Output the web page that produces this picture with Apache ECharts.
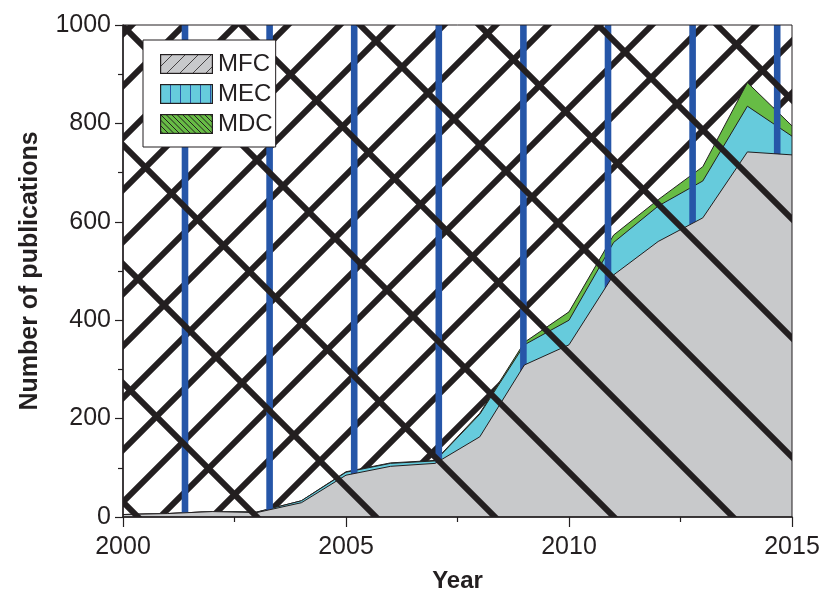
<!DOCTYPE html>
<html>
<head>
<meta charset="utf-8">
<script src="https://cdn.jsdelivr.net/npm/echarts@6/dist/echarts.min.js"></script>
<style>
html, body { margin: 0; background: #fff; }
#chart { width: 823px; height: 591px; }
</style>
</head>
<body>
<div id="chart"></div>
<script>
// data (stacked: MFC at bottom, then MEC, then MDC)
const years = [2000, 2001, 2002, 2003, 2004, 2005, 2006, 2007, 2008, 2009, 2010, 2011, 2012, 2013, 2014, 2015];
const mfc = [5, 7, 11, 9, 29, 85, 103, 109, 163, 309, 350, 492, 560, 608, 742, 736];
const mec = [0, 0, 0, 1, 4, 6, 6, 5, 46, 41, 50, 66, 72, 75, 93, 38];
const mdc = [0, 0, 0, 0, 0, 1, 1, 1, 2, 5, 17, 15, 13, 29, 48, 21];
const seriesNames = ['MFC', 'MEC', 'MDC'];
const xTicks = { min: 2000, max: 2015, interval: 5 };
const yTicks = { min: 0, max: 1000, interval: 200 };

const ink = '#231f20';
const font = '"Liberation Sans", Arial, Helvetica, sans-serif';

// running totals, so each layer can be filled down to zero and overlapped
const topMEC = mfc.map((v, i) => v + mec[i]);
const topMDC = topMEC.map((v, i) => v + mdc[i]);

// small hatched swatches for the legend
function swatch(bg, draw) {
  const c = document.createElement('canvas');
  c.width = 53; c.height = 20;
  const g = c.getContext('2d');
  g.fillStyle = bg;
  g.fillRect(0, 0, 53, 20);
  g.save();
  g.beginPath(); g.rect(0, 0, 53, 20); g.clip();
  draw(g);
  g.restore();
  g.strokeStyle = ink; g.lineWidth = 1.2;
  g.strokeRect(0.6, 0.6, 51.8, 18.8);
  return 'image://' + c.toDataURL();
}
const iconMFC = swatch('#c8c9cb', g => {
  g.strokeStyle = ink; g.lineWidth = 0.8;
  for (let x = -20; x < 75; x += 13) { g.beginPath(); g.moveTo(x, 20); g.lineTo(x + 20, 0); g.stroke(); }
});
const iconMEC = swatch('#66cbdc', g => {
  g.strokeStyle = '#2656a8'; g.lineWidth = 1;
  for (let x = 10; x < 53; x += 10) { g.beginPath(); g.moveTo(x + 0.5, 0); g.lineTo(x + 0.5, 20); g.stroke(); }
});
const iconMDC = swatch('#67bc45', g => {
  g.strokeStyle = ink; g.lineWidth = 1;
  for (let x = -22; x < 60; x += 5.5) { g.beginPath(); g.moveTo(x, 0); g.lineTo(x + 20, 20); g.stroke(); }
});

function pairs(vals) { return years.map((y, i) => [y, vals[i]]); }

let myChart = echarts.init(document.getElementById('chart'));
myChart.setOption({
  animation: false,
  grid: {
    left: 123, top: 25, right: 31, bottom: 74, outerBoundsMode: 'none', containLabel: false,
    show: true, borderColor: ink, borderWidth: 1, backgroundColor: 'transparent', z: 7
  },
  legend: {
    orient: 'vertical',
    left: 143, top: 40,
    itemWidth: 53, itemHeight: 20, itemGap: 6,
    padding: [12, 3, 11, 17],
    backgroundColor: '#fff',
    borderColor: ink, borderWidth: 1,
    textStyle: { fontSize: 24, color: ink, fontFamily: font },
    data: [
      { name: 'MFC', icon: iconMFC },
      { name: 'MEC', icon: iconMEC },
      { name: 'MDC', icon: iconMDC }
    ],
    z: 10
  },
  xAxis: {
    type: 'value',
    min: xTicks.min, max: xTicks.max, interval: xTicks.interval,
    name: 'Year', nameLocation: 'middle', nameGap: 52,
    nameTextStyle: { fontSize: 24, fontWeight: 'bold', color: ink, fontFamily: font },
    axisLine: { lineStyle: { color: ink, width: 1.5 } },
    axisTick: { length: 10, lineStyle: { color: ink, width: 1.2 } },
    minorTick: { show: true, splitNumber: 2, length: 5, lineStyle: { color: ink, width: 1.2 } },
    axisLabel: { fontSize: 25, color: ink, fontFamily: font, margin: 18, formatter: v => String(v) },
    splitLine: { show: false },
    z: 8
  },
  yAxis: {
    type: 'value',
    min: yTicks.min, max: yTicks.max, interval: yTicks.interval,
    name: 'Number of publications', nameLocation: 'middle', nameGap: 80, nameRotate: 90,
    nameTextStyle: { fontSize: 25, fontWeight: 'bold', color: ink, fontFamily: font },
    axisLine: { show: true, lineStyle: { color: ink, width: 1.5 } },
    axisTick: { show: true, length: 8, lineStyle: { color: ink, width: 1.2 } },
    minorTick: { show: true, splitNumber: 2, length: 5, lineStyle: { color: ink, width: 1.2 } },
    axisLabel: { fontSize: 25, color: ink, fontFamily: font, margin: 12, formatter: v => String(v) },
    splitLine: { show: false },
    z: 8
  },
  series: [
    {
      name: seriesNames[0], type: 'line', data: pairs(mfc),
      symbol: 'none', lineStyle: { color: ink, width: 1 },
      areaStyle: { color: '#c8c9cb', opacity: 1 }, itemStyle: { color: '#c8c9cb' }, z: 5
    },
    {
      name: seriesNames[1], type: 'line', data: pairs(topMEC),
      symbol: 'none', lineStyle: { color: ink, width: 1 },
      areaStyle: { color: '#66cbdc', opacity: 1 }, itemStyle: { color: '#66cbdc' }, z: 3
    },
    {
      name: seriesNames[2], type: 'line', data: pairs(topMDC),
      symbol: 'none', lineStyle: { color: ink, width: 1 },
      areaStyle: { color: '#67bc45', opacity: 1 }, itemStyle: { color: '#67bc45' }, z: 2
    }
  ]
});

// the oversized hatch strokes that cross the plot area
function clipHalf(pts, a, b, c) {
  const out = [];
  for (let i = 0; i < pts.length; i++) {
    const cur = pts[i], prev = pts[(i + pts.length - 1) % pts.length];
    const dc = a * cur[0] + b * cur[1] - c, dp = a * prev[0] + b * prev[1] - c;
    const cross = () => { const t = dp / (dp - dc); return [prev[0] + t * (cur[0] - prev[0]), prev[1] + t * (cur[1] - prev[1])]; };
    if (dc <= 0) { if (dp > 0) out.push(cross()); out.push(cur); }
    else if (dp <= 0) out.push(cross());
  }
  return out;
}
function band(px, py, dx, dy, hw, W, H) {
  const T = 3000, nx = -dy * hw, ny = dx * hw;
  let pts = [
    [px - dx * T + nx, py - dy * T + ny], [px + dx * T + nx, py + dy * T + ny],
    [px + dx * T - nx, py + dy * T - ny], [px - dx * T - nx, py - dy * T - ny]
  ];
  pts = clipHalf(pts, 1, 0, W); pts = clipHalf(pts, -1, 0, 0);
  pts = clipHalf(pts, 0, 1, H); pts = clipHalf(pts, 0, -1, 0);
  return pts;
}

const p0 = myChart.convertToPixel({ gridIndex: 0 }, [xTicks.min, yTicks.max]);
const p1 = myChart.convertToPixel({ gridIndex: 0 }, [xTicks.max, yTicks.min]);
const L = p0[0], T0 = p0[1], W = p1[0] - p0[0], H = p1[1] - p0[1];
const s2 = Math.SQRT1_2;
const els = [];
function addPoly(pts, color, z) {
  if (pts.length < 3) return;
  els.push({ type: 'polygon', silent: true, z: z, shape: { points: pts.map(p => [p[0] + L, p[1] + T0]) }, style: { fill: color } });
}
// "/" strokes, under the areas
for (let c = 9 - 52; c < W + H + 52; c += 52) addPoly(band(c / 2, c / 2, s2, -s2, 3, W, H), ink, 1);
// blue verticals, above MEC/MDC but under MFC
for (let x = 62; x < W; x += 84.6) addPoly(band(x, 0, 0, 1, 3.3, W, H), '#2656a8', 4);
// "\" strokes, over everything in the plot
for (let d = -1 - 119 * 6; d < W + 119; d += 119) addPoly(band(d, 0, s2, s2, 3, W, H), ink, 6);

myChart.setOption({ graphic: { elements: els } });
</script>
</body>
</html>
